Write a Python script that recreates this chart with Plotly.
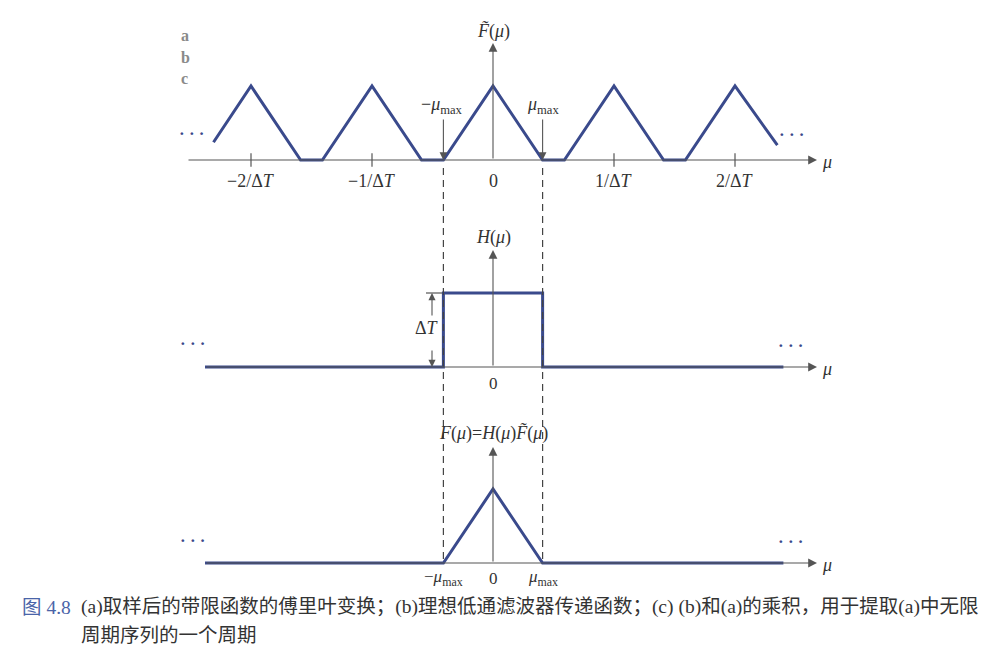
import plotly.graph_objects as go

# ---------------- data (x in units of 1/ΔT, y relative to each panel's baseline) -------------
# (a) periodic spectrum of the sampled band-limited function
spec_x = [-2.31, -2.0, -1.59, -1.41, -1.0, -0.59, -0.41, 0.0, 0.41, 0.59, 1.0, 1.41, 1.59, 2.0, 2.35]
spec_y = [0.24, 1.0, 0.0, 0.0, 1.0, 0.0, 0.0, 1.0, 0.0, 0.0, 1.0, 0.0, 0.0, 1.0, 0.2]
# (b) ideal low-pass filter
filt_x = [-2.38, -0.41, -0.41, 0.41, 0.41, 2.40]
filt_y = [0.0, 0.0, 1.0, 1.0, 0.0, 0.0]
# (c) product
prod_x = [-2.38, -0.41, 0.0, 0.41, 2.40]
prod_y = [0.0, 0.0, 1.0, 0.0, 0.0]
# tick positions / labels on axis (a)
tick_pos = [-2, -1, 0, 1, 2]
tick_lab = ["−2/Δ<i>T</i>", "−1/Δ<i>T</i>", "0", "1/Δ<i>T</i>", "2/Δ<i>T</i>"]
mu_max = 0.41

# ---------------- layout constants ----------------
W, H = 991, 667
X0, PX = 493, 121.0        # pixel of u=0, pixels per 1/ΔT
PY = 74.0                  # pixels per unit height
BASE = {"y": 160, "y2": 367, "y3": 563}
BLUE = "#3a4a8c"
GRAY = "#555555"
TXT = "#333333"
SERIF = "Liberation Serif, DejaVu Serif, serif"


def u(px):
    return (px - X0) / PX


def v(ax, py):
    return (BASE[ax] - py) / PY


fig = go.Figure()
for xs, ys, ax in [(spec_x, spec_y, "y"), (filt_x, filt_y, "y2"), (prod_x, prod_y, "y3")]:
    fig.add_trace(go.Scatter(x=xs, y=ys, yaxis=ax, mode="lines",
                             line=dict(color=BLUE, width=3), hoverinfo="skip",
                             showlegend=False))

ann = []
shapes = []


def arrow(ax, x_tip, y_tip, x_tail, y_tail, size=1.6, width=1.1):
    ann.append(dict(x=x_tip, y=y_tip, ax=x_tail, ay=y_tail, xref="x", yref=ax,
                    axref="x", ayref=ax, text="", showarrow=True, arrowhead=2,
                    arrowsize=size, arrowwidth=width, arrowcolor=GRAY, standoff=0,
                    startstandoff=0))


def label(ax, x, y, text, size=15, color=TXT, xanchor="center", yanchor="middle"):
    ann.append(dict(x=x, y=y, xref="x", yref=ax, text=text, showarrow=False,
                    font=dict(family=SERIF, size=size, color=color),
                    xanchor=xanchor, yanchor=yanchor))


# horizontal axes with arrows and μ labels
for ax, left in [("y", 187), ("y2", 205), ("y3", 205)]:
    arrow(ax, u(817), 0, u(left), 0)
    label(ax, u(820), v(ax, BASE[ax] + 2), "<i>μ</i>", size=18, xanchor="left")
# vertical axes
arrow("y", 0, v("y", 43), 0, 0)
arrow("y2", 0, v("y2", 250), 0, 0)
arrow("y3", 0, v("y3", 447), 0, 0)
label("y", 0, v("y", 31), "<i>F\u0303</i>(<i>μ</i>)", size=18)
label("y2", 0, v("y2", 237), "<i>H</i>(<i>μ</i>)", size=18)
label("y3", 0, v("y3", 433), "<i>F</i>(<i>μ</i>)=<i>H</i>(<i>μ</i>)<i>F\u0303</i>(<i>μ</i>)", size=18)

# ticks & tick labels on (a)
for p, t in zip(tick_pos, tick_lab):
    if p != 0:
        shapes.append(dict(type="line", xref="x", yref="y", x0=p, x1=p, y0=-0.09, y1=0.09,
                           line=dict(color=GRAY, width=1.2)))
    label("y", p, v("y", 181), t, size=18)

# μmax markers on (a)
mum = "<i>μ</i><sub>max</sub>"
label("y", u(442), v("y", 105), "−" + mum, size=18)
label("y", u(543), v("y", 105), mum, size=18)
arrow("y", -mu_max, 0, -mu_max, v("y", 118), size=1.4)
arrow("y", mu_max, 0, mu_max, v("y", 118), size=1.4)

# (b) ΔT dimension and 0
arrow("y2", u(432), 1, u(432), v("y2", 317), size=1.3)
arrow("y2", u(432), 0, u(432), v("y2", 349), size=1.3)
shapes.append(dict(type="line", xref="x", yref="y2", x0=u(426), x1=u(442), y0=1, y1=1,
                   line=dict(color=GRAY, width=1.2)))
label("y2", u(427), v("y2", 328), "Δ<i>T</i>", size=18)
label("y2", 0, v("y2", 383), "0", size=17)

# (c) labels
label("y3", -mu_max, v("y3", 578), "−" + mum, size=17)
label("y3", 0, v("y3", 578), "0", size=17)
label("y3", mu_max, v("y3", 578), mum, size=17)

# ellipses
for ax, xl, yl, xr, yr in [("y", 192, 133, 792, 134), ("y2", 193, 343, 791, 345),
                           ("y3", 193, 540, 791, 541)]:
    label(ax, u(xl), v(ax, yl), "<b>· · ·</b>", size=17, color=BLUE)
    label(ax, u(xr), v(ax, yr), "<b>· · ·</b>", size=17, color=BLUE)

# dashed guide lines
for xv in (-mu_max, mu_max):
    shapes.append(dict(type="line", xref="x", yref="paper", x0=xv, x1=xv,
                       y0=1 - 168 / H, y1=1 - 561 / H,
                       line=dict(color="#444444", width=1.2, dash="7px,5px")))

# panel letters
for i, ch in enumerate(["a", "b", "c"]):
    ann.append(dict(x=179 / W, y=1 - (25 + 21.5 * i) / H, xref="paper", yref="paper",
                    text="<b>" + ch + "</b>", showarrow=False,
                    font=dict(family=SERIF, size=16, color="#8a8a8a")))

# caption
CAP_FONT = "Liberation Serif, Noto Sans CJK SC, serif"
ann.append(dict(x=20 / W, y=1 - 620 / H, xref="paper", yref="paper", xanchor="left",
                text="图 4.8", showarrow=False,
                font=dict(family=CAP_FONT, size=19.5, color="#4a64a8")))
ann.append(dict(x=79 / W, y=1 - 620 / H, xref="paper", yref="paper", xanchor="left",
                text="(a)取样后的带限函数的傅里叶变换；(b)理想低通滤波器传递函数；(c) (b)和(a)的乘积，用于提取(a)中无限",
                showarrow=False, font=dict(family=CAP_FONT, size=19.5, color="#333333")))
ann.append(dict(x=79 / W, y=1 - 648 / H, xref="paper", yref="paper", xanchor="left",
                text="周期序列的一个周期", showarrow=False,
                font=dict(family=CAP_FONT, size=19.5, color="#333333")))

yr = {ax: [v(ax, H), v(ax, 0)] for ax in BASE}
fig.update_layout(
    width=W, height=H, margin=dict(l=0, r=0, t=0, b=0),
    paper_bgcolor="white", plot_bgcolor="white",
    xaxis=dict(range=[u(0), u(W)], visible=False, fixedrange=True),
    yaxis=dict(range=yr["y"], visible=False, fixedrange=True),
    yaxis2=dict(range=yr["y2"], visible=False, overlaying="y", fixedrange=True),
    yaxis3=dict(range=yr["y3"], visible=False, overlaying="y", fixedrange=True),
    annotations=ann, shapes=shapes, showlegend=False,
)
fig.write_html("out.html", config={"displayModeBar": False},
               post_script="document.body.style.margin='0';")
